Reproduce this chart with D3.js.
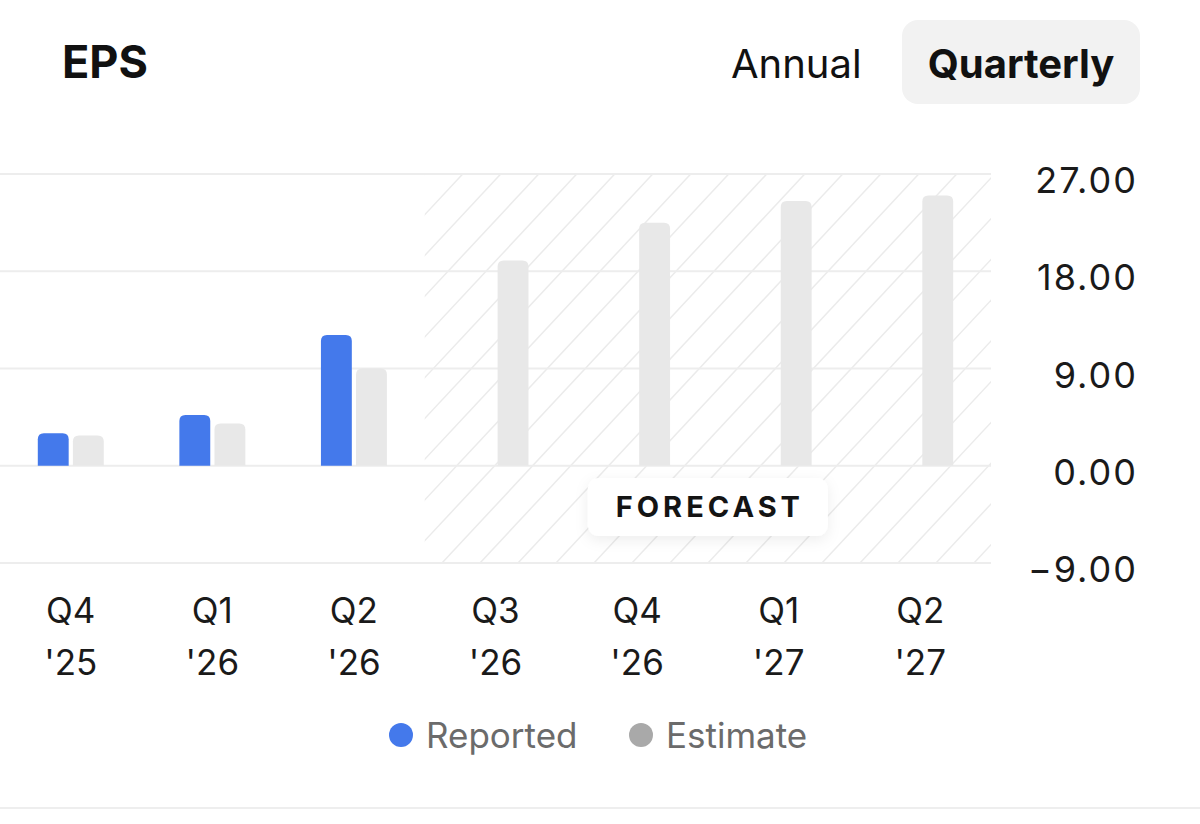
<!DOCTYPE html>
<html>
<head>
<meta charset="utf-8">
<script src="https://cdn.jsdelivr.net/npm/d3@7"></script>
<style>
  html, body { margin: 0; padding: 0; background: #fff; }
  svg { display: block; font-family: Inter, "Noto Sans", sans-serif; }
</style>
</head>
<body>
<svg id="chart" width="1200" height="824"></svg>
<script>
// data
var quarters = ["Q4 '25", "Q1 '26", "Q2 '26", "Q3 '26", "Q4 '26", "Q1 '27", "Q2 '27"];
var reported = [3.0, 4.7, 12.1, null, null, null, null];
var estimate = [2.8, 3.9, 9.0, 19.0, 22.5, 24.5, 25.0];
var yTicks = [-9, 0, 9, 18, 27];
var firstForecast = 3;
var series = ["reported", "estimate"];
var legendLabels = ["Reported", "Estimate"];
var colors = { reported: "#4479eb", estimate: "#e8e8e8" };
var legendColors = ["#4479eb", "#a9a9a9"];

var svg = d3.select("#chart");

var x = d3.scaleBand().domain(quarters).range([0, 991])
  .paddingInner(0.534).paddingOuter(0.267);
var xs = d3.scaleBand().domain(series).range([0, x.bandwidth()]).paddingInner(0.12);
var y = d3.scaleLinear().domain([-9, 27]).range([563, 174]);

var defs = svg.append("defs");
var shadow = defs.append("filter").attr("id", "soft").attr("x", "-20%").attr("y", "-40%")
  .attr("width", "140%").attr("height", "200%");
shadow.append("feDropShadow").attr("dx", 0).attr("dy", 4).attr("stdDeviation", 7)
  .attr("flood-color", "#000").attr("flood-opacity", 0.07);

// header
svg.append("text").attr("x", 62).attr("y", 78).text("EPS")
  .style("font-size", "45px").style("font-weight", 700).attr("fill", "#111");
svg.append("text").attr("x", 731).attr("y", 78).text("Annual")
  .style("font-size", "40px").attr("fill", "#111");
svg.append("rect").attr("x", 902).attr("y", 20).attr("width", 238).attr("height", 84)
  .attr("rx", 16).attr("fill", "#f2f2f2");
svg.append("text").attr("x", 1021).attr("y", 78).attr("text-anchor", "middle").text("Quarterly")
  .style("font-size", "40px").style("font-weight", 700).attr("fill", "#111");

// forecast hatch region
var step = x.step();
var hatchX0 = x(quarters[firstForecast]) + x.bandwidth() / 2 - step / 2;
var hatchX1 = x.range()[1];
var plotTop = y(27), plotBottom = y(-9);

defs.append("clipPath").attr("id", "hatchClip").append("rect")
  .attr("x", hatchX0).attr("y", plotTop).attr("width", hatchX1 - hatchX0).attr("height", plotBottom - plotTop);

var hatch = svg.append("g").attr("clip-path", "url(#hatchClip)");
var slant = (plotBottom - plotTop) / Math.tan(47 * Math.PI / 180);
d3.range(hatchX0 - slant, hatchX1 + 40, 38).forEach(function(sx) {
  hatch.append("line")
    .attr("x1", sx).attr("y1", plotBottom).attr("x2", sx + slant).attr("y2", plotTop)
    .attr("stroke", "#ebebeb").attr("stroke-width", 1.5);
});

// gridlines
svg.append("g").selectAll("line").data(yTicks).join("line")
  .attr("x1", 0).attr("x2", hatchX1)
  .attr("y1", function(d) { return y(d); }).attr("y2", function(d) { return y(d); })
  .attr("stroke", "#ededed").attr("stroke-width", 2);

// y axis on the right
var yAxis = svg.append("g").attr("transform", "translate(1138,0)")
  .call(d3.axisRight(y).tickValues(yTicks).tickSize(0)
    .tickFormat(function(d) { return d3.format(".2f")(d).replace("-", "\u2212"); }));
yAxis.select(".domain").remove();
yAxis.selectAll("text").attr("x", 0).attr("dy", "0.52em").attr("text-anchor", "end")
  .attr("fill", "#1a1a1a").style("font-size", "36px").style("letter-spacing", "2px")
  .style("font-family", "Inter, sans-serif");

// rounded-top bar
function barPath(x0, w, v) {
  var y0 = y(0), y1 = y(v), r = Math.min(6, (y0 - y1) / 2);
  return "M" + x0 + "," + y0 +
    "V" + (y1 + r) +
    "Q" + x0 + "," + y1 + " " + (x0 + r) + "," + y1 +
    "H" + (x0 + w - r) +
    "Q" + (x0 + w) + "," + y1 + " " + (x0 + w) + "," + (y1 + r) +
    "V" + y0 + "Z";
}

var rows = quarters.map(function(q, i) {
  return { q: q, reported: reported[i], estimate: estimate[i] };
});

var groups = svg.append("g").selectAll("g").data(rows).join("g")
  .attr("transform", function(d) { return "translate(" + x(d.q) + ",0)"; });

groups.selectAll("path")
  .data(function(d) {
    return series.filter(function(s) { return d[s] != null; })
      .map(function(s) { return { key: s, value: d[s] }; });
  })
  .join("path")
  .attr("d", function(d) { return barPath(xs(d.key), xs.bandwidth(), d.value); })
  .attr("fill", function(d) { return colors[d.key]; });

// forecast badge
var bx = (hatchX0 + hatchX1) / 2;
var badge = svg.append("g").attr("transform", "translate(" + bx + ",507)");
badge.append("rect").attr("x", -120).attr("y", -29).attr("width", 240).attr("height", 58)
  .attr("rx", 11).attr("fill", "#fff").attr("filter", "url(#soft)");
badge.append("text").attr("text-anchor", "middle").attr("dy", "0.36em").attr("dx", 2).text("FORECAST")
  .style("font-size", "29px").style("font-weight", 700).style("letter-spacing", "4px")
  .attr("fill", "#141414");

// x labels
var xl = svg.append("g").selectAll("text").data(quarters).join("text")
  .attr("text-anchor", "middle")
  .attr("fill", "#1a1a1a").style("font-size", "35px");
xl.each(function(d) {
  var parts = d.split(" ");
  var t = d3.select(this);
  var cx = x(d) + x.bandwidth() / 2;
  t.append("tspan").attr("x", cx).attr("y", 623).text(parts[0]);
  t.append("tspan").attr("x", cx).attr("y", 675).text(parts[1]);
});

// legend
var legendX = [401, 641];
var lg = svg.append("g").selectAll("g").data(legendLabels).join("g")
  .attr("transform", function(d, i) { return "translate(" + legendX[i] + ",735)"; });
lg.append("circle").attr("r", 12).attr("fill", function(d, i) { return legendColors[i]; });
lg.append("text").attr("x", 25).attr("dy", "0.36em").text(function(d) { return d; })
  .attr("fill", "#6b6b6b").style("font-size", "35px");

// bottom divider
svg.append("line").attr("x1", 0).attr("x2", 1200).attr("y1", 808).attr("y2", 808)
  .attr("stroke", "#eeeeee").attr("stroke-width", 2);
</script>
</body>
</html>
